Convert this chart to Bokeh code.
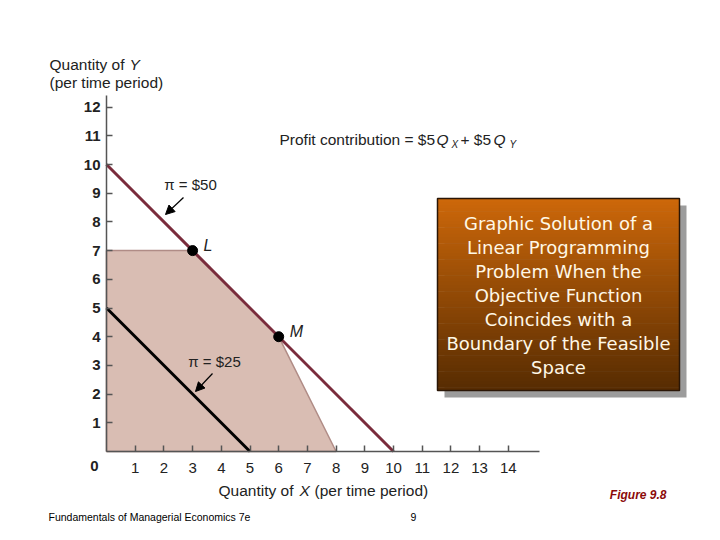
import numpy as np
from bokeh.plotting import figure
from bokeh.models import Range1d, LinearAxis, FixedTicker, Label, Arrow, NormalHead
from bokeh.core.properties import value
from bokeh.embed import file_html
from bokeh.resources import INLINE

# feasible space (Q_X, Q_Y corners)
feasible_x = [0, 0, 3, 6, 8]
feasible_y = [0, 7, 7, 4, 0]

# iso-profit lines, pi = $50 and pi = $25
pi50_x = [0, 10]
pi50_y = [10, 0]
pi25_x = [0, 5]
pi25_y = [5, 0]

# corner points on the pi = $50 line
corner_x = [3, 6]
corner_y = [7, 4]
corner_names = ["L", "M"]

# axes
x_ticks = list(range(1, 15))
y_ticks = list(range(1, 13))
x_axis_end = 15.1
y_axis_end = 12.4

box_lines = ["Graphic Solution of a", "Linear Programming", "Problem When the",
             "Objective Function", "Coincides with a",
             "Boundary of the Feasible", "Space"]

PX = 28.7          # screen pixels per unit on both axes
W, H = 712, 532
BORDER = 40        # left / top panels holding the axes
X0, Y0 = 106, 451  # screen position of the origin


def px_x(px):
    return (px - X0) / PX


def px_y(py):
    return (Y0 - py) / PX


p = figure(width=W, height=H, output_backend="svg", toolbar_location=None,
           x_range=Range1d(px_x(BORDER), px_x(W)),
           y_range=Range1d(px_y(H), px_y(BORDER)),
           x_axis_location=None, y_axis_location=None,
           min_border_left=BORDER, min_border_top=BORDER,
           min_border_right=0, min_border_bottom=0)
p.outline_line_color = None
p.grid.visible = False
p.background_fill_color = "white"
p.border_fill_color = "white"

axis_style = dict(minor_tick_line_color=None, fixed_location=0,
                  axis_line_color="#555555", axis_line_width=1.5,
                  major_tick_line_color="#555555", major_tick_line_width=1.5,
                  major_label_text_font="Liberation Sans",
                  major_label_text_font_size="15px",
                  major_label_text_color="#222222")
# x axis sits on y = 0; labels pushed below the line
xaxis = LinearAxis(bounds=(0, x_axis_end), ticker=FixedTicker(ticks=x_ticks),
                   major_tick_out=6, major_tick_in=0, major_label_standoff=-27,
                   **axis_style)
yaxis = LinearAxis(bounds=(0, y_axis_end), ticker=FixedTicker(ticks=y_ticks),
                   major_tick_in=6, major_tick_out=0, major_label_standoff=6,
                   major_label_text_font_style="bold", **axis_style)
p.add_layout(xaxis, "above")
p.add_layout(yaxis, "left")

# feasible space
p.patch(feasible_x, feasible_y, fill_color="#d9bdb3", line_color="#b08c86", line_width=1.5)

# iso-profit lines
p.line(pi25_x, pi25_y, line_color="black", line_width=3)
p.line(pi50_x, pi50_y, line_color="#7a2c3c", line_width=3)

p.scatter(corner_x, corner_y, size=10, color="black")
p.text(corner_x, corner_y, text=corner_names, x_offset=11, y_offset=-5,
       text_font=value("Liberation Sans"), text_font_style="italic",
       text_font_size="16px", text_baseline="middle", text_color="#222222")

# title box with shadow and vertical gradient
p.quad(left=px_x(444), right=px_x(686), top=px_y(205), bottom=px_y(397),
       fill_color="#9c9c9c", line_color=None)
n = 60
edges = np.linspace(px_y(198), px_y(390), n + 1)
top_rgb = np.array([204, 104, 10])
bot_rgb = np.array([88, 44, 2])
cols = []
for t in np.linspace(0, 1, n):
    r, g, b = (top_rgb + (bot_rgb - top_rgb) * t).astype(int)
    cols.append("#%02x%02x%02x" % (r, g, b))
p.quad(left=px_x(437), right=px_x(679), top=edges[:-1], bottom=edges[1:] - 0.02,
       fill_color=cols, line_color=None)
p.quad(left=px_x(437), right=px_x(679), top=px_y(198), bottom=px_y(390),
       fill_color=None, line_color="#2a1606", line_width=1.5)
p.text(x=[px_x(558)] * len(box_lines),
       y=[px_y(223 + 24 * i) for i in range(len(box_lines))],
       text=box_lines, text_align="center", text_baseline="middle",
       text_font=value("DejaVu Sans"), text_font_size="18px", text_color="#fff8e6")


def label(x, y, text, size="15.5px", style="normal", color="#222222",
          font="Liberation Sans", align="left", baseline="middle"):
    p.add_layout(Label(x=px_x(x), y=px_y(y), text=text, text_font=font,
                       text_font_size=size, text_font_style=style,
                       text_color=color, text_align=align, text_baseline=baseline))


# axis titles
label(49, 64, "Quantity of")
label(129, 64, "Y", style="italic")
label(49, 82, "(per time period)")
label(218, 490, "Quantity of")
label(299, 490, "X", style="italic")
label(314, 490, "(per time period)")
label(94, 465, "0", size="15px", style="bold", align="center")

# profit function
label(279, 139, "Profit contribution = $5")
label(436, 139, "Q", style="italic")
label(451, 144, "X", size="10px", style="italic")
label(460, 139, "+ $5")
label(493, 139, "Q", style="italic")
label(509, 144, "Y", size="10px", style="italic")

# profit line labels and arrows
label(190, 184, "\u03c0 = $50", size="15px", align="center")
label(214, 361, "\u03c0 = $25", size="15px", align="center")
for (x0, y0, x1, y1) in [(183, 197, 165, 214), (212, 373, 195, 391)]:
    p.add_layout(Arrow(x_start=px_x(x0), y_start=px_y(y0), x_end=px_x(x1), y_end=px_y(y1),
                       line_width=1.2, line_color="black",
                       end=NormalHead(size=9, fill_color="black", line_color="black")))

# footer
label(48, 516, "Fundamentals of Managerial Economics 7e", size="10.5px", color="#000000")
label(410, 516, "9", size="10.5px", color="#000000")
label(666, 494, "Figure 9.8", size="12px", style="bold italic", color="#8b0a0a",
      align="right")

open("out.html", "w").write(file_html(p, INLINE))
